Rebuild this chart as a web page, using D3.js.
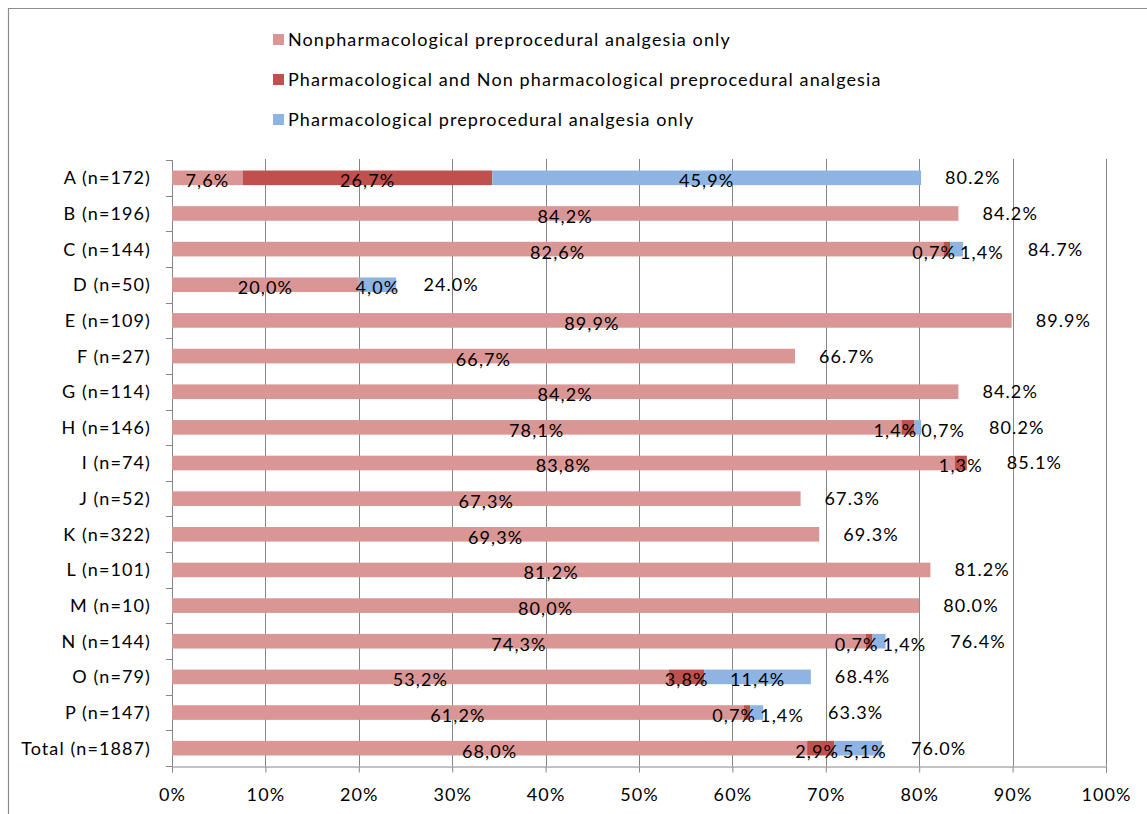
<!DOCTYPE html>
<html>
<head>
<meta charset="utf-8">
<script src="https://cdn.jsdelivr.net/npm/d3@7/dist/d3.min.js"></script>
<style>
  html, body { margin: 0; padding: 0; background: #fff; }
  svg { display: block; }
  text { font-family: Lato, "Open Sans", sans-serif; fill: #000; letter-spacing: 1.1px; }
</style>
</head>
<body>
<svg id="chart" width="1147" height="814"></svg>
<script>
const categories = ["A (n=172)", "B (n=196)", "C (n=144)", "D (n=50)", "E (n=109)", "F (n=27)",
  "G (n=114)", "H (n=146)", "I (n=74)", "J (n=52)", "K (n=322)", "L (n=101)", "M (n=10)",
  "N (n=144)", "O (n=79)", "P (n=147)", "Total (n=1887)"];
const seriesNames = ["Nonpharmacological preprocedural analgesia only",
  "Pharmacological and Non pharmacological preprocedural analgesia",
  "Pharmacological preprocedural analgesia only"];
const nonPharmOnly = [7.6, 84.2, 82.6, 20.0, 89.9, 66.7, 84.2, 78.1, 83.8, 67.3, 69.3, 81.2, 80.0, 74.3, 53.2, 61.2, 68.0];
const pharmAndNon  = [26.7, 0, 0.7, 0, 0, 0, 0, 1.4, 1.3, 0, 0, 0, 0, 0.7, 3.8, 0.7, 2.9];
const pharmOnly    = [45.9, 0, 1.4, 4.0, 0, 0, 0, 0.7, 0, 0, 0, 0, 0, 1.4, 11.4, 1.4, 5.1];
const totals       = [80.2, 84.2, 84.7, 24.0, 89.9, 66.7, 84.2, 80.2, 85.1, 67.3, 69.3, 81.2, 80.0, 76.4, 68.4, 63.3, 76.0];
const xTicks = [0, 10, 20, 30, 40, 50, 60, 70, 80, 90, 100];
const colors = ["#D99694", "#C0504D", "#8DB4E2"];

(function () {
const svg = d3.select("#chart");
const FONT = 18;
const pLeft = 172, pRight = 1106, pTop = 160, pBottom = 766;

// outer chart border
svg.append("path").attr("d", `M8.5,820 V8.5 H1150`).attr("fill", "none").attr("stroke", "#8c8c8c").attr("stroke-width", 1.2);

const x = d3.scaleLinear().domain([0, 100]).range([pLeft, pRight]);
const y = d3.scaleBand().domain(categories).range([pTop, pBottom]).paddingInner(0.59).paddingOuter(0.295);

// gridlines
svg.append("g").selectAll("line").data(xTicks.slice(1)).join("line")
  .attr("x1", d => Math.round(x(d)) + 0.5).attr("x2", d => Math.round(x(d)) + 0.5)
  .attr("y1", pTop - 1).attr("y2", pBottom)
  .attr("stroke", "#868686").attr("stroke-width", 1);

// x axis
const xAxis = svg.append("g").attr("transform", `translate(0,${pBottom + 0.5})`)
  .call(d3.axisBottom(x).tickValues(xTicks).tickFormat(d => d + "%").tickSize(6).tickPadding(16));
xAxis.select(".domain").attr("stroke", "#868686");
xAxis.selectAll(".tick line").attr("stroke", "#868686");
xAxis.selectAll("text").style("font-size", FONT + "px").style("font-family", "Lato, sans-serif");

// y axis line and boundary ticks
const step = y.step();
const bounds = d3.range(categories.length + 1).map(i => pTop + i * step);
svg.append("line").attr("x1", pLeft + 0.5).attr("x2", pLeft + 0.5).attr("y1", pTop).attr("y2", pBottom)
  .attr("stroke", "#868686");
svg.append("g").selectAll("line").data(bounds).join("line")
  .attr("x1", pLeft - 6).attr("x2", pLeft + 0.5)
  .attr("y1", d => Math.round(d) + 0.5).attr("y2", d => Math.round(d) + 0.5)
  .attr("stroke", "#868686");

// category labels
svg.append("g").selectAll("text").data(categories).join("text")
  .attr("x", 151).attr("y", d => y(d) + y.bandwidth() / 2)
  .attr("dy", "0.36em").attr("text-anchor", "end")
  .style("font-size", FONT + "px").text(d => d);

// stack
const rows = categories.map((c, i) => ({ cat: c, v: [nonPharmOnly[i], pharmAndNon[i], pharmOnly[i]], total: totals[i] }));
const segs = [];
rows.forEach(r => {
  let acc = 0;
  r.v.forEach((v, k) => {
    segs.push({ cat: r.cat, k, x0: acc, x1: acc + v, v });
    acc += v;
  });
});

svg.append("g").selectAll("rect").data(segs.filter(s => s.v > 0)).join("rect")
  .attr("x", d => x(d.x0)).attr("width", d => x(d.x1) - x(d.x0))
  .attr("y", d => y(d.cat)).attr("height", y.bandwidth())
  .attr("fill", d => colors[d.k]);

const fmtSeg = v => d3.format(".1f")(v).replace(".", ",") + "%";
const labelG = svg.append("g");

rows.forEach(r => {
  const cy = y(r.cat) + y.bandwidth() / 2;
  const rs = segs.filter(s => s.cat === r.cat && s.v > 0);
  const labs = rs.map(s => {
    const t = labelG.append("text").attr("y", cy + 3).attr("dy", "0.36em")
      .style("font-size", FONT + "px").attr("text-anchor", "start").text(fmtSeg(s.v));
    const w = t.node().getBBox().width;
    const c = (x(s.x0) + x(s.x1)) / 2;
    return { t, w, l: c - w / 2 };
  });
  for (let i = 1; i < labs.length; i++) {
    const a = labs[i - 1], b = labs[i];
    const ov = a.l + a.w - b.l + 4;
    if (ov > 0) { a.l -= ov / 3; b.l += ov * 2 / 3; }
  }
  labs.forEach(o => o.t.attr("x", o.l));
  const barEnd = x(r.total);
  const lastRight = d3.max(labs, o => o.l + o.w);
  labelG.append("text").attr("x", Math.max(barEnd, lastRight) + 24).attr("y", cy).attr("dy", "0.36em")
    .style("font-size", FONT + "px").text(d3.format(".1f")(r.total) + "%");
});

// legend
const lg = svg.append("g");
seriesNames.forEach((n, i) => {
  const ly = 40 + i * 40;
  lg.append("rect").attr("x", 273).attr("y", ly - 6).attr("width", 11).attr("height", 11).attr("fill", colors[i]);
  lg.append("text").attr("x", 288).attr("y", ly).attr("dy", "0.36em").style("font-size", FONT + "px").text(n);
});
})();
</script>
</body>
</html>
